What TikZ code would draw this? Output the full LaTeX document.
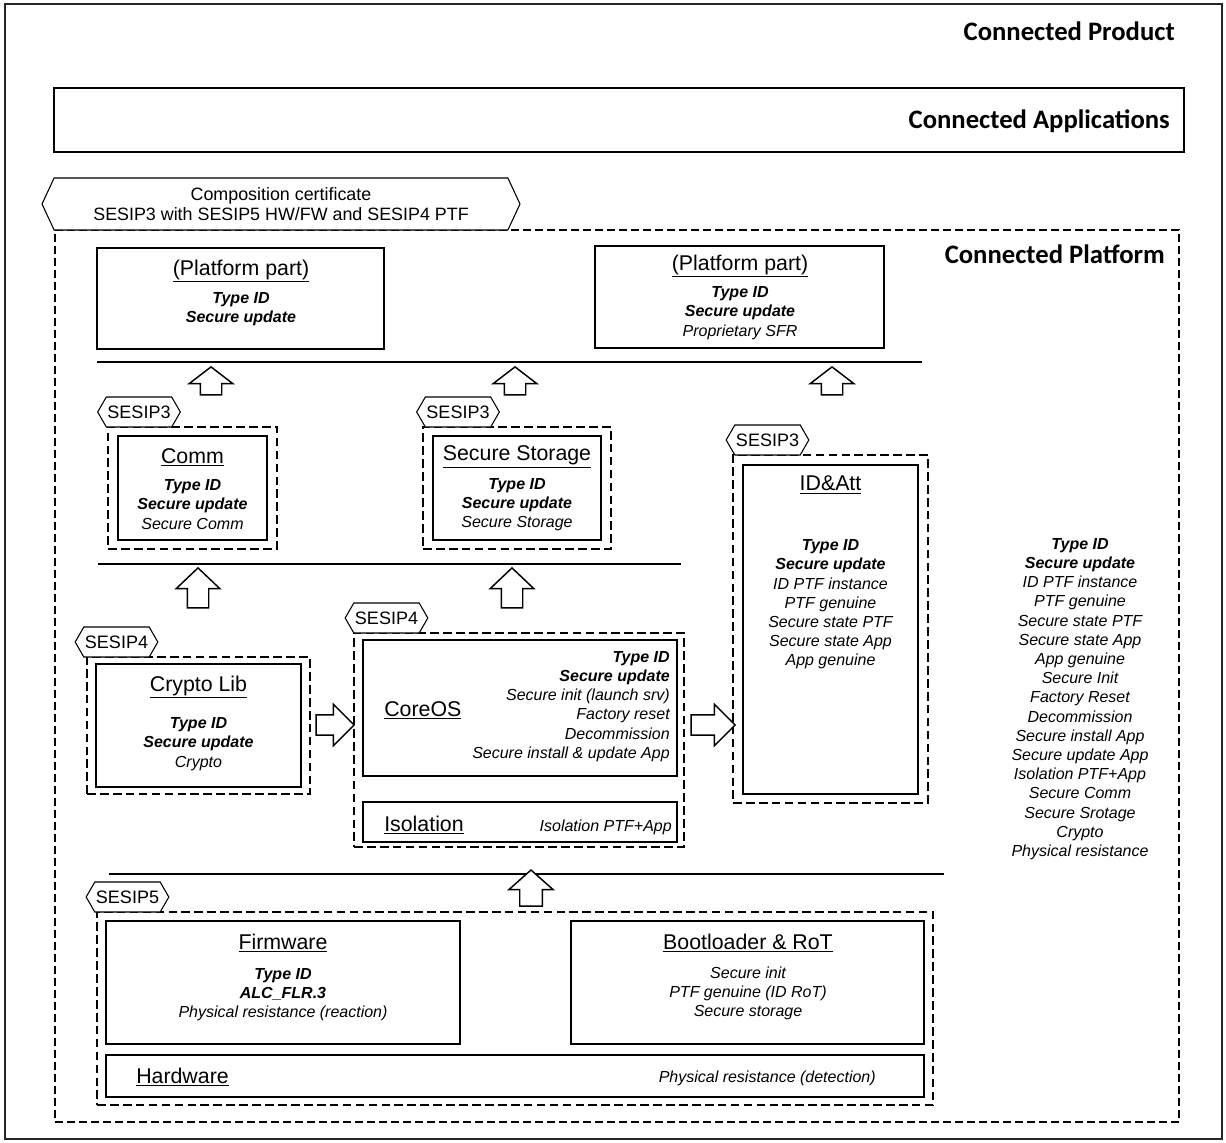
\documentclass[tikz,border=0pt]{standalone}
\usepackage{fontspec}
\setmainfont{Liberation Sans}
\newfontfamily\calibri{Carlito}
\usetikzlibrary{fit,shapes.symbols,shapes.arrows}
\newcommand\bit[1]{\textbf{\textit{#1}}}
\begin{document}
\begin{tikzpicture}[x=0.75pt,y=-0.75pt,
  box/.style={draw, line width=1.1pt, inner sep=0pt},
  dbox/.style={draw, line width=1.9pt, dash pattern=on 6.5pt off 3.2pt, inner sep=0pt},
  pbox/.style={draw, line width=1pt, dash pattern=on 6pt off 3pt, inner sep=0pt},
  tag/.style={draw, fill=white, line width=0.8pt, shape=signal, signal to=west and east, signal pointer angle=120, minimum width=62pt, minimum height=22.5pt, inner sep=0pt, font=\fontsize{13.5}{15}\selectfont},
  ttl/.style={inner sep=0pt, font=\fontsize{16}{18}\selectfont},
  body/.style={inner sep=0pt, align=center, font=\fontsize{12}{14.4}\selectfont\itshape},
  big/.style={inner sep=0pt, anchor=east, font=\calibri\bfseries\fontsize{20}{24}\selectfont},
  hl/.style={line width=2pt},
  blockarr/.style={draw, line width=1.1pt, fill=white, shape=single arrow, inner xsep=0pt, inner ysep=7.5pt, minimum width=31.5pt, single arrow head extend=8.25pt},
  uparr/.style={blockarr, rotate=90},
]
\useasboundingbox (0,0) rectangle (1226,1142);
% outer frame and top level
\node[box, draw=black!85, fit={(5,4) (1222,1139)}] (product) {};
\node[big] (tprod) at (1175,31) {Connected Product};
\node[box, fit={(54,88) (1184,152)}] (apps) {};
\node[big] (tapps) at (1170,121) {Connected Applications};
\node[pbox, fit={(55,230) (1179,1122)}] (platform) {};
\node[big] (tplat) at (1165,254) {Connected Platform};
\node[tag, minimum width=358.5pt, minimum height=39pt, align=center, font=\fontsize{13.4}{15}\selectfont, signal pointer angle=130] (cert) at (281,204) {Composition certificate\\SESIP3 with SESIP5 HW/FW and SESIP4 PTF};

% platform parts
\node[box, fit={(97,248) (384,349)}] (pp1) {};
\node[ttl] (pp1t) at (241,271) {\underline{(Platform part)}};
\node[body] (pp1b) at (241,309) {\bit{Type ID}\\\bit{Secure update}};
\node[box, fit={(595,246) (884,348)}] (pp2) {};
\node[ttl] (pp2t) at (740,266) {\underline{(Platform part)}};
\node[body] (pp2b) at (740,313) {\bit{Type ID}\\\bit{Secure update}\\Proprietary SFR};

\coordinate (l1a) at (97,362); \coordinate (l1b) at (922,362);
\draw[hl] (l1a) -- (l1b);
\node[uparr, minimum height=21pt, single arrow tip angle=105] (a1) at (211,385) {};
\node[uparr, minimum height=21pt, single arrow tip angle=105] (a2) at (515,385) {};
\node[uparr, minimum height=21pt, single arrow tip angle=105] (a3) at (832,385) {};

% Comm
\node[dbox, fit={(108,427) (277,549)}] (commd) {};
\node[box, fit={(118,436) (267,540)}] (comm) {};
\node[tag] (tag1) at (139,412) {SESIP3};
\node[ttl] (commt) at (192.5,457) {\underline{Comm}};
\node[body] (commb) at (192.5,504.5) {\bit{Type ID}\\\bit{Secure update}\\Secure Comm};

% Secure storage
\node[dbox, fit={(423,427) (611,549)}] (ssd) {};
\node[box, fit={(433,436) (601,540)}] (ss) {};
\node[tag] (tag2) at (458,412) {SESIP3};
\node[ttl] (sst) at (517,457) {\underline{Secure Storage}};
\node[body] (ssb) at (517,504.5) {\bit{Type ID}\\\bit{Secure update}\\Secure Storage};

% ID & Att
\node[dbox, fit={(733,455) (928,803)}] (idd) {};
\node[box, fit={(743,465) (918,794)}] (id) {};
\node[tag] (tag3) at (767.5,440) {SESIP3};
\node[ttl] (idt) at (830.5,485) {\underline{ID\&Att}};
\node[body] (idb) at (830.5,604.5) {\bit{Type ID}\\\bit{Secure update}\\ID PTF instance\\PTF genuine\\Secure state PTF\\Secure state App\\App genuine};

% right column
\node[body] (summary) at (1080,699) {\bit{Type ID}\\\bit{Secure update}\\ID PTF instance\\PTF genuine\\Secure state PTF\\Secure state App\\App genuine\\Secure Init\\Factory Reset\\Decommission\\Secure install App\\Secure update App\\Isolation PTF+App\\Secure Comm\\Secure Srotage\\Crypto\\Physical resistance};

\coordinate (l2a) at (98,564); \coordinate (l2b) at (681,564);
\draw[hl] (l2a) -- (l2b);
\node[uparr, minimum height=30pt, single arrow tip angle=93] (a4) at (198,593) {};
\node[uparr, minimum height=30pt, single arrow tip angle=93] (a5) at (512,593) {};

% Crypto
\node[dbox, fit={(87,657) (310,794)}] (cryd) {};
\node[box, fit={(96,664) (301,787)}] (cry) {};
\node[tag] (tag4) at (116.5,642) {SESIP4};
\node[ttl] (cryt) at (198.5,687) {\underline{Crypto Lib}};
\node[body] (cryb) at (198.5,744) {\bit{Type ID}\\\bit{Secure update}\\Crypto};
\node[blockarr, minimum height=28.5pt, minimum width=30pt, inner ysep=7.1pt, single arrow head extend=7.9pt, single arrow tip angle=90] (a7) at (330,725) {};

% CoreOS
\node[dbox, fit={(354,633) (684,847)}] (cored) {};
\node[box, fit={(363,640) (677,776)}] (core) {};
\node[tag] (tag5) at (386.5,618) {SESIP4};
\node[ttl, anchor=west] (coret) at (384,710) {\underline{CoreOS}};
\node[body, align=right, anchor=east] (coreb) at (670,706.5) {\bit{Type ID}\\\bit{Secure update}\\Secure init (launch srv)\\Factory reset\\Decommission\\Secure install \& update App};
\node[box, fit={(363,802) (677,842)}] (iso) {};
\node[ttl, anchor=west] (isot) at (384,825) {\underline{Isolation}};
\node[body, anchor=east] (isob) at (672,827) {Isolation PTF+App};
\node[blockarr, minimum height=33pt, minimum width=30pt, inner ysep=7.1pt, single arrow head extend=7.9pt, single arrow tip angle=90] (a8) at (708,725) {};

% bottom
\coordinate (l3a) at (109,874); \coordinate (l3b) at (944,874);
\draw[hl] (l3a) -- (l3b);
\node[uparr, minimum height=27pt, minimum width=32.25pt, inner ysep=7.9pt, single arrow head extend=8.25pt, single arrow tip angle=97] (a6) at (531,893) {};
\node[dbox, fit={(97,912) (933,1105)}] (hwd) {};
\node[tag] (tag6) at (127.5,897) {SESIP5};
\node[box, fit={(106,921) (460,1044)}] (fw) {};
\node[ttl] (fwt) at (283,943) {\underline{Firmware}};
\node[body] (fwb) at (283,994.5) {\bit{Type ID}\\\bit{ALC\_FLR.3}\\Physical resistance (reaction)};
\node[box, fit={(571,921) (924,1044)}] (bl) {};
\node[ttl] (blt) at (748,943) {\underline{Bootloader \& RoT}};
\node[body] (blb) at (748,993.5) {Secure init\\PTF genuine (ID RoT)\\Secure storage};
\node[box, fit={(106,1055) (924,1097)}] (hw) {};
\node[ttl, anchor=west] (hwt) at (136,1077) {\underline{Hardware}};
\node[body, anchor=east] (hwb) at (876,1078) {Physical resistance (detection)};
\end{tikzpicture}
\end{document}
